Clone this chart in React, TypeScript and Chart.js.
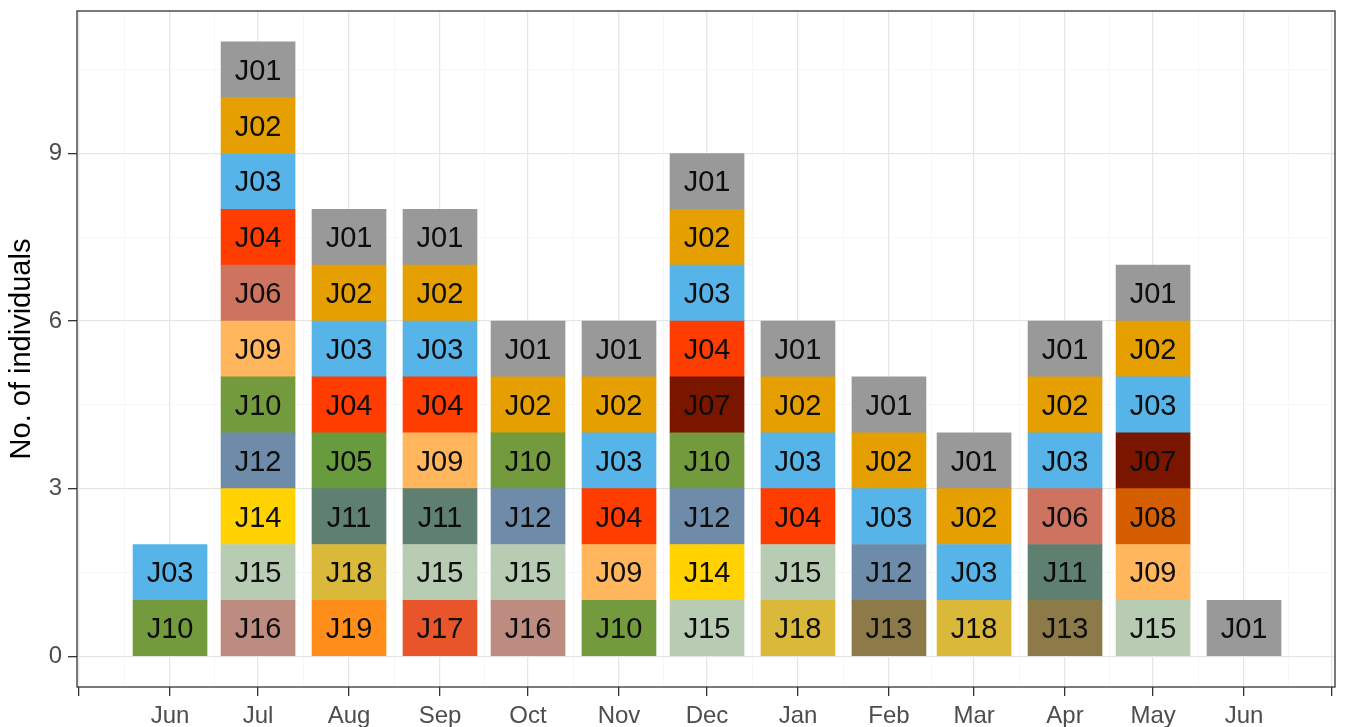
import { useEffect, useRef } from 'react';
import { Chart, registerables } from 'chart.js';

Chart.register(...registerables);

// x positions are days since 15 Jun 2019
const tickDays = [-31, 0, 30, 61, 92, 122, 153, 183, 214, 245, 274, 305, 335, 366, 396];
const tickLabels = ['', 'Jun', 'Jul', 'Aug', 'Sep', 'Oct', 'Nov', 'Dec', 'Jan', 'Feb', 'Mar', 'Apr', 'May', 'Jun', ''];

const barDays = [0, 30, 61, 92, 122, 153, 183, 214, 245, 274, 305, 335, 366];

// individuals present each month, from the bottom of the bar to the top
const jun19 = ['J10', 'J03'];
const jul19 = ['J16', 'J15', 'J14', 'J12', 'J10', 'J09', 'J06', 'J04', 'J03', 'J02', 'J01'];
const aug19 = ['J19', 'J18', 'J11', 'J05', 'J04', 'J03', 'J02', 'J01'];
const sep19 = ['J17', 'J15', 'J11', 'J09', 'J04', 'J03', 'J02', 'J01'];
const oct19 = ['J16', 'J15', 'J12', 'J10', 'J02', 'J01'];
const nov19 = ['J10', 'J09', 'J04', 'J03', 'J02', 'J01'];
const dec19 = ['J15', 'J14', 'J12', 'J10', 'J07', 'J04', 'J03', 'J02', 'J01'];
const jan20 = ['J18', 'J15', 'J04', 'J03', 'J02', 'J01'];
const feb20 = ['J13', 'J12', 'J03', 'J02', 'J01'];
const mar20 = ['J18', 'J03', 'J02', 'J01'];
const apr20 = ['J13', 'J11', 'J06', 'J03', 'J02', 'J01'];
const may20 = ['J15', 'J09', 'J08', 'J07', 'J03', 'J02', 'J01'];
const jun20 = ['J01'];

const stacks = [jun19, jul19, aug19, sep19, oct19, nov19, dec19, jan20, feb20, mar20, apr20, may20, jun20];

const idColors: Record<string, string> = {
  J01: '#999999',
  J02: '#E69F00',
  J03: '#56B4E9',
  J04: '#FF3D00',
  J05: '#689B3D',
  J06: '#CD735F',
  J07: '#7A1500',
  J08: '#D55E00',
  J09: '#FFB65C',
  J10: '#739A3D',
  J11: '#5F7F70',
  J12: '#6F8BAA',
  J13: '#8C7B48',
  J14: '#FFD200',
  J15: '#B8CCB4',
  J16: '#BC8C80',
  J17: '#E8552B',
  J18: '#D9B83A',
  J19: '#FF8F1A',
};

const yMajor = [0, 3, 6, 9];
const yMinor = [1.5, 4.5, 7.5, 10.5];

const FONT = '"Liberation Sans", Arial, Helvetica, sans-serif';

export default function App() {
  const ref = useRef<HTMLCanvasElement>(null);

  useEffect(() => {
    if (!ref.current) return;
    const xMinor: number[] = [];
    for (let i = 0; i < tickDays.length - 1; i++) xMinor.push((tickDays[i] + tickDays[i + 1]) / 2);
    const xMajorSet = new Set(tickDays);
    const yMajorSet = new Set(yMajor);
    const xAll = [...tickDays, ...xMinor].sort((a, b) => a - b);
    const yAll = [...yMajor, ...yMinor].sort((a, b) => a - b);

    const maxLevel = Math.max(...stacks.map((s) => s.length));
    const datasets: any[] = [];
    for (let L = 0; L < maxLevel; L++) {
      const data: any[] = [];
      stacks.forEach((s, i) => {
        if (s.length > L) data.push({ x: barDays[i], y: [L, L + 1], id: s[L] });
      });
      datasets.push({
        data,
        backgroundColor: (c: any) => idColors[c.raw?.id] ?? '#999999',
        borderWidth: 0,
        barThickness: 74,
        grouped: false,
      });
    }

    const labelPlugin = {
      id: 'cellLabels',
      afterDatasetsDraw(chart: any) {
        const ctx = chart.ctx;
        ctx.save();
        ctx.font = `29px ${FONT}`;
        ctx.fillStyle = '#0d0d0d';
        ctx.textAlign = 'center';
        ctx.textBaseline = 'middle';
        chart.data.datasets.forEach((ds: any, di: number) => {
          const meta = chart.getDatasetMeta(di);
          meta.data.forEach((el: any, j: number) => {
            const p = el.getProps(['x', 'y', 'base'], true);
            ctx.fillText(ds.data[j].id, p.x, (p.y + p.base) / 2 + 2);
          });
        });
        ctx.restore();
      },
    };

    const borderPlugin = {
      id: 'panelBorder',
      afterDraw(chart: any) {
        const { left, right, top, bottom } = chart.chartArea;
        const ctx = chart.ctx;
        ctx.save();
        ctx.strokeStyle = '#333333';
        ctx.lineWidth = 1.3;
        ctx.strokeRect(left, top, right - left, bottom - top);
        ctx.restore();
      },
    };

    const chart = new Chart(ref.current, {
      type: 'bar',
      data: { datasets },
      plugins: [labelPlugin, borderPlugin],
      options: {
        responsive: false,
        animation: false,
        layout: { padding: { left: 0, top: 11, right: 10, bottom: 0 } },
        plugins: { legend: { display: false }, tooltip: { enabled: false } },
        scales: {
          x: {
            type: 'linear',
            offset: false,
            min: -31.7,
            max: 397,
            afterBuildTicks: (scale: any) => {
              scale.ticks = xAll.map((v) => ({ value: v }));
            },
            afterFit: (scale: any) => {
              scale.height = 40;
              scale.paddingLeft = 0;
              scale.paddingRight = 0;
            },
            border: { display: false },
            grid: {
              offset: false,
              color: (c: any) => (xMajorSet.has(c.tick?.value) ? '#E6E6E6' : '#F3F3F3'),
              lineWidth: (c: any) => (xMajorSet.has(c.tick?.value) ? 1.3 : 0.7),
              tickColor: (c: any) => (xMajorSet.has(c.tick?.value) ? '#333333' : 'rgba(0,0,0,0)'),
              tickLength: 9,
              tickWidth: 1.3,
            },
            ticks: {
              autoSkip: false,
              maxRotation: 0,
              minRotation: 0,
              padding: 6,
              color: '#4D4D4D',
              font: { family: FONT, size: 24 },
              callback: (v: any) => {
                const i = tickDays.indexOf(Number(v));
                return i >= 0 ? tickLabels[i] : '';
              },
            },
          },
          y: {
            type: 'linear',
            min: -0.55,
            max: 11.55,
            afterBuildTicks: (scale: any) => {
              scale.ticks = yAll.map((v) => ({ value: v }));
            },
            afterFit: (scale: any) => {
              scale.width = 77;
              scale.paddingTop = 0;
              scale.paddingBottom = 0;
            },
            border: { display: false },
            grid: {
              color: (c: any) => (yMajorSet.has(c.tick?.value) ? '#E6E6E6' : '#F3F3F3'),
              lineWidth: (c: any) => (yMajorSet.has(c.tick?.value) ? 1.3 : 0.7),
              tickColor: (c: any) => (yMajorSet.has(c.tick?.value) ? '#333333' : 'rgba(0,0,0,0)'),
              tickLength: 9,
              tickWidth: 1.3,
            },
            ticks: {
              autoSkip: false,
              padding: 6,
              color: '#4D4D4D',
              font: { family: FONT, size: 24 },
              callback: (v: any) => (yMajorSet.has(Number(v)) ? String(v) : ''),
            },
            title: {
              display: true,
              text: 'No. of individuals',
              color: '#000000',
              font: { family: FONT, size: 29 },
              padding: { top: 5, bottom: 0 },
            },
          },
        },
      },
    } as any);

    return () => chart.destroy();
  }, []);

  return (
    <div style={{ position: 'absolute', left: 0, top: 0, width: 1345, height: 727, background: '#ffffff' }}>
      <canvas ref={ref} width={1345} height={727} style={{ display: 'block' }} />
    </div>
  );
}
